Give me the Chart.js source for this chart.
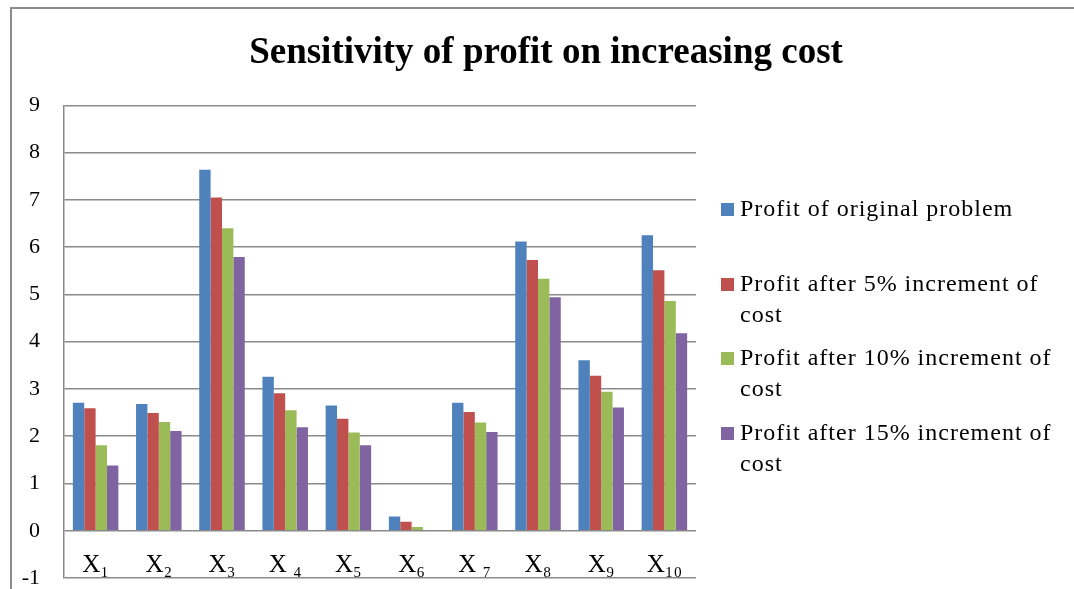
<!DOCTYPE html>
<html>
<head>
<meta charset="utf-8">
<script src="https://cdn.jsdelivr.net/npm/chart.js@4.4.0/dist/chart.umd.min.js"></script>
<style>
  body { margin: 0; background: #fff; }
  #wrap { position: relative; width: 1074px; height: 589px; overflow: hidden; }
  #frame { position: absolute; left: 10px; top: 7px; width: 1200px; height: 700px;
           border-left: 2px solid #8c8c8c; border-top: 2px solid #8c8c8c; }
  #chart { position: absolute; left: 0; top: 0; }
  #legend { position: absolute; left: 721px; top: 0; font-family: 'Liberation Serif', serif;
            font-size: 24px; letter-spacing: 1px; line-height: 31px; color: #000; }
  .item { position: absolute; left: 0; width: 350px; }
  .box { position: absolute; left: 0; top: 10px; width: 13px; height: 13px; }
  .txt { margin-left: 19px; width: 322px; }
</style>
</head>
<body>
<div id="wrap">
  <div id="frame"></div>
  <canvas id="chart" width="1074" height="589"></canvas>
  <div id="legend"></div>
</div>
<script>
// data
const categories = ['X₁', 'X₂', 'X₃', 'X ₄', 'X₅', 'X₆', 'X ₇', 'X₈', 'X₉', 'X₁₀'];
const seriesNames = [
    'Profit of original problem',
    'Profit after 5% increment of cost',
    'Profit after 10% increment of cost',
    'Profit after 15% increment of cost'
];
const profitOriginal = [2.71, 2.68, 7.64, 3.26, 2.65, 0.30, 2.71, 6.12, 3.61, 6.25];
const profit5 = [2.59, 2.49, 7.05, 2.91, 2.37, 0.19, 2.51, 5.73, 3.28, 5.51];
const profit10 = [1.81, 2.30, 6.40, 2.55, 2.08, 0.08, 2.29, 5.33, 2.94, 4.86];
const profit15 = [1.38, 2.11, 5.79, 2.19, 1.81, 0.00, 2.09, 4.94, 2.61, 4.18];
const yMin = -1;
const yMax = 9;

const colors = ['#4F81BD', '#C0504D', '#9BBB59', '#8064A2'];
const allSeries = [profitOriginal, profit5, profit10, profit15];
const serif = "'Liberation Serif', 'DejaVu Serif', serif";
const gridGray = '#8a8a8a';

const ctx = document.getElementById('chart').getContext('2d');
const chart = new Chart(ctx, {
    type: 'bar',
    data: {
        labels: categories,
        datasets: allSeries.map((d, i) => ({
            label: seriesNames[i],
            data: d,
            backgroundColor: colors[i],
            borderWidth: 0,
            categoryPercentage: 0.72,
            barPercentage: 1
        }))
    },
    options: {
        responsive: false,
        animation: false,
        layout: { padding: { left: 18, top: 0, right: 0, bottom: 0 } },
        plugins: {
            legend: { display: false },
            tooltip: { enabled: false },
            title: {
                display: true,
                text: 'Sensitivity of profit on increasing cost',
                color: '#000',
                font: { family: serif, size: 37, weight: 'bold', lineHeight: 1.2 },
                padding: { top: 31, bottom: 30 }
            }
        },
        scales: {
            x: {
                // labels sit inside the plot, between 0 and -1
                position: { y: yMin },
                grid: { display: false, drawTicks: false },
                border: { display: false },
                ticks: {
                    color: '#000',
                    padding: -25,
                    maxRotation: 0,
                    autoSkip: false,
                    font: { family: serif, size: 25, lineHeight: 1 }
                }
            },
            y: {
                min: yMin,
                max: yMax,
                ticks: {
                    stepSize: 1,
                    color: '#000',
                    padding: 0,
                    font: { family: serif, size: 22, lineHeight: 1 }
                },
                // invisible tick marks give the gap between labels and axis
                grid: { color: gridGray, lineWidth: 1.5, drawTicks: true, tickLength: 24, tickColor: 'rgba(0,0,0,0)' },
                border: { display: true, color: gridGray, width: 1.5 },
                afterFit: s => { s.width = 46; }
            },
            side: {
                type: 'linear',
                position: 'right',
                display: true,
                ticks: { display: false },
                grid: { display: false, drawTicks: false },
                border: { display: false },
                afterFit: s => { s.width = 378; }
            }
        }
    }
});

// html legend so the long labels can wrap like the original
const legend = document.getElementById('legend');
const legendTops = [193, 268, 342, 417];
seriesNames.forEach((name, i) => {
    const item = document.createElement('div');
    item.className = 'item';
    item.style.top = legendTops[i] + 'px';
    item.innerHTML = '<div class="box" style="background:' + colors[i] + '"></div><div class="txt"></div>';
    item.querySelector('.txt').textContent = name;
    legend.appendChild(item);
});
</script>
</body>
</html>
